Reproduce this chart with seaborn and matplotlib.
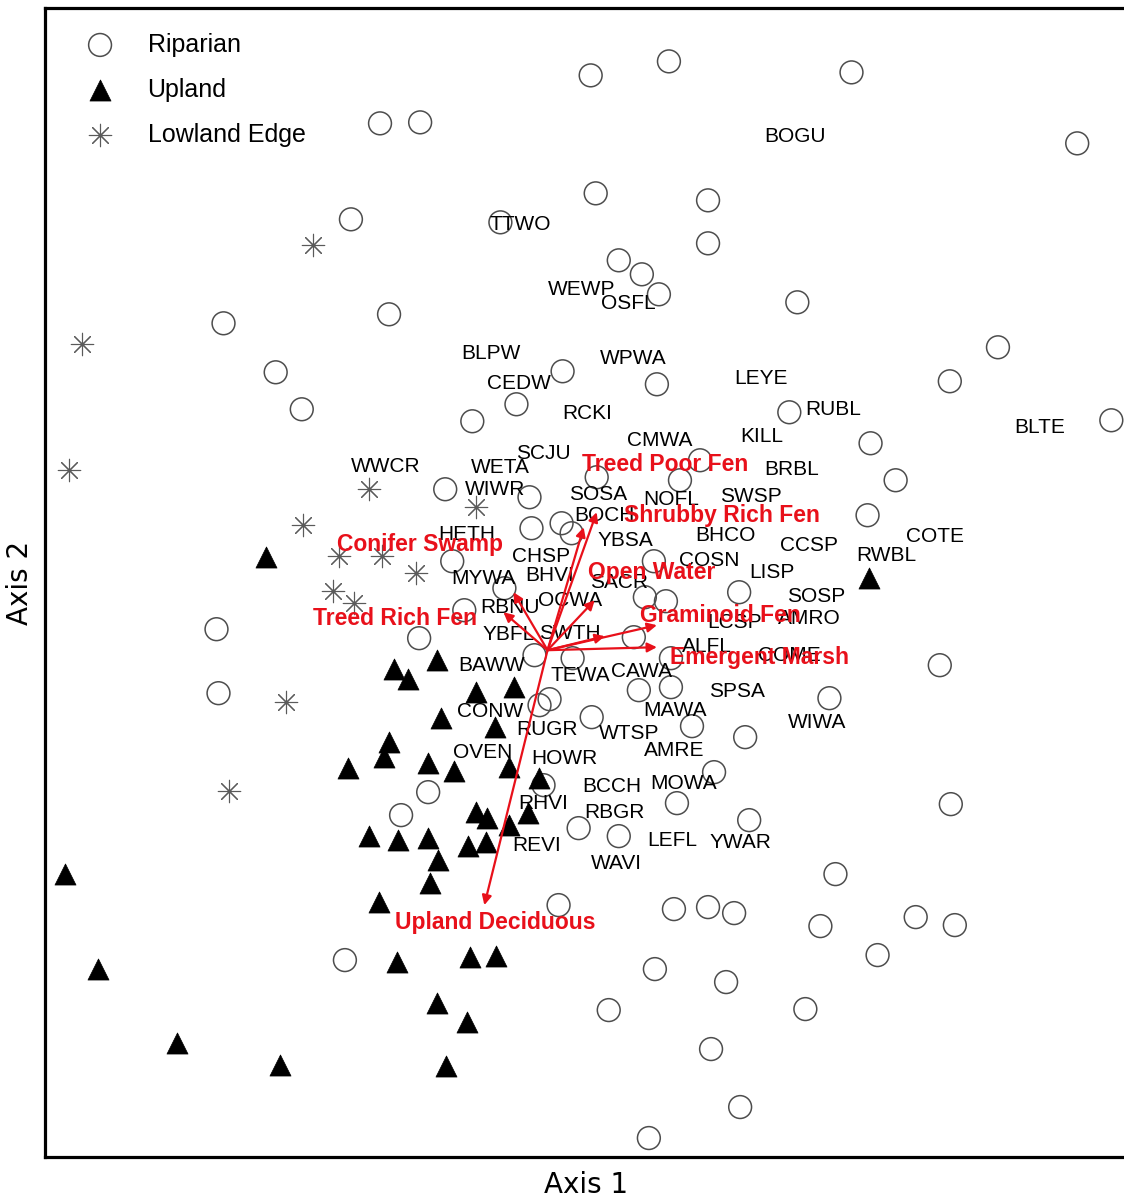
import numpy as np
import pandas as pd
import seaborn as sns
import matplotlib
matplotlib.use("Agg")
import matplotlib.pyplot as plt

# Site scores (Axis 1, Axis 2)
riparian_x = [0.43, 1.21, 3.03, -1.67, -1.27, 5.28, 0.48, 1.60, -1.96, -0.47, 1.60, 0.71, 0.94, 1.11,
              2.49, -3.23, -1.58, 4.49, -2.71, 0.15, 1.09, 4.01, -2.45, -0.31, -0.75, 2.41, 5.62, 3.22,
              0.49, 1.52, 1.32, 3.47, -1.02, -0.18, -0.16, 0.14, 0.24, 3.19, -0.95, 1.06, -0.43, -0.83,
              0.97, 1.18, 1.91, -3.30, -1.28, 0.86, -0.13, 0.25, 1.23, 0.91, 1.23, 0.02, -0.08, 0.44,
              1.44, 1.97, 3.91, 2.81, -3.28, -0.04, -1.19, -1.46, 1.66, 1.29, 2.01, 4.02, 0.31, 0.71,
              2.87, 0.11, 1.26, 1.60, 1.86, 2.72, 3.67, 4.06, 3.29, -2.02, 1.07, 1.78, 0.61, 2.57,
              1.63, 1.92, 1.01]
riparian_y = [5.75, 5.89, 5.78, 5.27, 5.28, 5.07, 4.57, 4.50, 4.31, 4.28, 4.07, 3.90, 3.76, 3.56,
              3.48, 3.27, 3.36, 3.03, 2.78, 2.79, 2.66, 2.69, 2.41, 2.46, 2.29, 2.38, 2.30, 2.07,
              1.73, 1.90, 1.70, 1.70, 1.61, 1.53, 1.22, 1.27, 1.17, 1.35, 0.89, 0.89, 0.62, 0.40,
              0.53, 0.49, 0.58, 0.21, 0.12, 0.13, -0.05, -0.08, -0.08, -0.40, -0.37, -0.49, -0.55, -0.67,
              -0.76, -0.87, -0.15, -0.48, -0.43, -1.35, -1.42, -1.65, -1.22, -1.53, -1.70, -1.54, -1.78, -1.86,
              -2.24, -2.55, -2.59, -2.57, -2.63, -2.76, -2.67, -2.75, -3.05, -3.10, -3.19, -3.32, -3.60, -3.59,
              -3.99, -4.57, -4.88]

upland_x = [-2.81, 3.20, -1.10, -1.53, -1.39, -0.71, -0.33, -1.06, -0.52, -1.58, -1.63, -1.99, -1.19,
            -0.93, -0.38, -0.09, -0.71, -0.60, -0.38, -0.19, -1.78, -1.49, -1.19, -0.79, -0.61, -1.09,
            -1.17, -1.68, -4.81, -4.48, -1.50, -0.77, -0.51, -1.10, -0.80, -3.69, -2.67, -1.01]
upland_y = [0.93, 0.72, -0.10, -0.19, -0.29, -0.42, -0.37, -0.68, -0.77, -0.92, -1.07, -1.18, -1.13,
            -1.21, -1.17, -1.28, -1.62, -1.68, -1.75, -1.63, -1.86, -1.90, -1.88, -1.96, -1.92, -2.10,
            -2.33, -2.52, -2.24, -3.19, -3.12, -3.07, -3.06, -3.53, -3.72, -3.93, -4.15, -4.16]

lowland_x = [-2.34, -4.64, -4.77, -1.78, -0.71, -2.44, -2.08, -1.65, -1.31, -2.14, -1.93, -2.61, -3.18]
lowland_y = [4.05, 3.06, 1.80, 1.61, 1.43, 1.25, 0.94, 0.94, 0.77, 0.59, 0.47, -0.52, -1.41]

# Species scores
species = ["BOGU", "TTWO", "WEWP", "OSFL", "BLPW", "WPWA", "CEDW", "LEYE", "RUBL", "RCKI", "KILL",
           "BLTE", "CMWA", "SCJU", "WWCR", "WETA", "BRBL", "WIWR", "SOSA", "NOFL", "SWSP", "BOCH",
           "HETH", "YBSA", "BHCO", "COTE", "CCSP", "CHSP", "RWBL", "COSN", "MYWA", "BHVI", "SACR",
           "LISP", "SOSP", "OCWA", "RBNU", "LCSP", "AMRO", "YBFL", "SWTH", "ALFL", "COME", "BAWW",
           "TEWA", "CAWA", "SPSA", "MAWA", "CONW", "WIWA", "RUGR", "WTSP", "AMRE", "OVEN", "HOWR",
           "BCCH", "MOWA", "RHVI", "RBGR", "LEFL", "YWAR", "REVI", "WAVI"]
species_x = [2.47, -0.27, 0.34, 0.81, -0.56, 0.85, -0.29, 2.13, 2.85, 0.40, 2.14,
             4.91, 1.12, -0.04, -1.61, -0.47, 2.43, -0.52, 0.50, 1.23, 2.03, 0.57,
             -0.81, 0.78, 1.77, 3.86, 2.61, -0.06, 3.38, 1.61, -0.64, 0.02, 0.71,
             2.24, 2.68, 0.22, -0.37, 1.86, 2.61, -0.39, 0.22, 1.59, 2.41, -0.56,
             0.33, 0.94, 1.89, 1.27, -0.57, 2.69, -0.01, 0.81, 1.26, -0.65, 0.17,
             0.64, 1.36, -0.04, 0.67, 1.24, 1.92, -0.11, 0.69]
species_y = [5.14, 4.26, 3.61, 3.47, 2.97, 2.92, 2.67, 2.72, 2.41, 2.37, 2.14,
             2.23, 2.10, 1.97, 1.84, 1.83, 1.81, 1.61, 1.56, 1.51, 1.54, 1.35,
             1.16, 1.10, 1.15, 1.14, 1.05, 0.94, 0.95, 0.90, 0.72, 0.75, 0.68,
             0.78, 0.54, 0.50, 0.43, 0.28, 0.32, 0.16, 0.17, 0.04, -0.05, -0.15,
             -0.25, -0.21, -0.41, -0.60, -0.61, -0.72, -0.79, -0.83, -1.00, -1.02, -1.08,
             -1.36, -1.33, -1.53, -1.62, -1.90, -1.92, -1.95, -2.13]

# Habitat vectors (arrow tips) and where their names sit
vectors = ["Treed Poor Fen", "Shrubby Rich Fen", "Conifer Swamp", "Treed Rich Fen", "Open Water",
           "", "Graminoid Fen", "Emergent Marsh", "Upland Deciduous"]
vector_x = [0.49, 0.36, -0.34, -0.44, 0.47, 0.57, 1.09, 1.09, -0.63]
vector_y = [1.38, 1.23, 0.58, 0.38, 0.50, 0.14, 0.25, 0.03, -2.55]
vlabel_x = [1.17, 1.74, -1.27, -1.52, 1.04, 0.0, 1.72, 2.11, -0.52]
vlabel_y = [1.86, 1.35, 1.06, 0.32, 0.78, 0.0, 0.35, -0.07, -2.72]

sns.set_style("white")
plt.rcParams["font.family"] = ["Liberation Sans", "DejaVu Sans"]
plt.rcParams["text.color"] = "black"
plt.rcParams["axes.labelcolor"] = "black"

fig = plt.figure(figsize=(11.24, 11.99), dpi=100)
ax = fig.add_axes([0.040, 0.035, 0.963, 0.958])

grey = "#4d4d4d"
sns.scatterplot(x=riparian_x, y=riparian_y, marker="o", s=270, facecolors="none",
                edgecolor=grey, linewidth=1.1, label="Riparian", ax=ax, zorder=2)
sns.scatterplot(x=upland_x, y=upland_y, marker="^", s=230, color="black",
                edgecolor="black", linewidth=0.5, label="Upland", ax=ax, zorder=2)
sns.scatterplot(x=lowland_x, y=lowland_y, marker=(8, 2, 0), s=260, color="#5a5a5a",
                linewidth=0.8, label="Lowland Edge", ax=ax, zorder=2)

for name, sx, sy in zip(species, species_x, species_y):
    ax.text(sx, sy, name, ha="center", va="center", fontsize=15, color="black", zorder=3)

red = "#e8101a"
for name, vx, vy, lx, ly in zip(vectors, vector_x, vector_y, vlabel_x, vlabel_y):
    ax.annotate("", xy=(vx, vy), xytext=(0, 0),
                arrowprops=dict(arrowstyle="-|>", color=red, lw=1.6,
                                mutation_scale=14, shrinkA=0, shrinkB=0), zorder=4)
    if name:
        ax.text(lx, ly, name, ha="center", va="center", fontsize=16.5, fontweight="bold",
                color=red, zorder=5)

ax.set_xlim(-5.01, 5.78)
ax.set_ylim(-5.07, 6.42)
ax.set_xticks([])
ax.set_yticks([])
for side in ["left", "bottom", "top", "right"]:
    ax.spines[side].set_color("black")
    ax.spines[side].set_linewidth(2.3)

ax.set_xlabel("Axis 1", fontsize=20, family="DejaVu Sans", labelpad=10)
ax.set_ylabel("Axis 2", fontsize=20, family="DejaVu Sans", labelpad=8)

ax.legend(loc="upper left", bbox_to_anchor=(0.0278, 0.979), frameon=False, fontsize=18,
          borderpad=0, borderaxespad=0, handlelength=2, handletextpad=0.9, labelspacing=0.85)

plt.savefig("out.png", dpi=100)
